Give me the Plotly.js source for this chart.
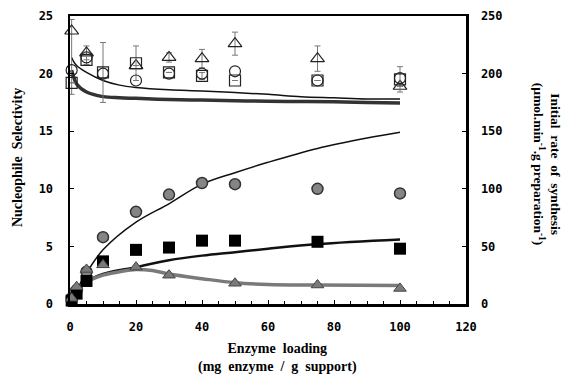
<!DOCTYPE html>
<html>
<head>
<meta charset="utf-8">
<script src="https://cdn.plot.ly/plotly-3.0.1.min.js"></script>
<style>html,body{margin:0;padding:0;background:#fff;}#chart{width:566px;height:377px;}</style>
</head>
<body>
<div id="chart"></div>
<script>
// ---- Nucleophile selectivity (left axis) ----
const selX = [0.5, 5, 10, 20, 30, 40, 50, 75, 100];
const selTriX = [0.5, 5, 20, 30, 40, 50, 75, 100];
const selTriY = [23.7, 21.8, 20.7, 21.4, 21.3, 22.6, 21.3, 18.9];
const selTriErrPlus = [1.0, 0.6, 0, 0.4, 0.8, 1.0, 1.1, 0];
const selTriErrMinus = [5.5, 0.6, 0, 0.4, 0.8, 1.0, 1.1, 0];
const selSqY = [19.2, 21.2, 20.1, 20.9, 20.1, 19.8, 19.4, 19.4, 19.5];
const selSqErr = [0, 0.4, 2.6, 1.5, 0, 0.3, 0, 0, 1.1];
const selCircY = [20.3, 21.4, 20.0, 19.4, 20.0, 20.0, 20.2, 19.4, 19.6];

const fitSelX = [0.5, 1, 2, 5, 10, 15, 20, 30, 40, 50, 60, 70, 80, 90, 100];
const fitSelThin = [21.4, 21.1, 20.7, 20.1, 19.4, 19.0, 18.8, 18.6, 18.5, 18.35, 18.2, 18.0, 17.9, 17.8, 17.8];
const fitSelThick = [20.3, 19.8, 19.1, 18.4, 18.0, 17.9, 17.85, 17.75, 17.7, 17.65, 17.6, 17.58, 17.55, 17.5, 17.45];

// ---- Initial rate of synthesis (right axis) ----
const rateX = [0.5, 2, 5, 10, 20, 30, 40, 50, 75, 100];
const rateCircY = [5, 12, 28, 58, 80, 95, 105, 104, 100, 96];
const rateSqY = [3, 9, 20, 37, 47, 49, 55, 55, 54, 48];
const rateTriX = [0.5, 2, 5, 10, 20, 30, 50, 75, 100];
const rateTriY = [5, 15, 30, 34, 32, 25, 18, 16.5, 13.5];

const fitCircX = [0.5, 2, 5, 10, 20, 30, 40, 50, 60, 75, 90, 100];
const fitCircY = [4, 12, 27, 47, 71, 87, 104, 114, 123, 135, 144, 149];
const fitSqX = [0.5, 2, 5, 10, 20, 30, 40, 50, 60, 75, 100];
const fitSqY = [4, 10, 19, 26, 32, 38, 42, 45, 48, 52, 56];
const fitTriX = [0.5, 2, 5, 10, 15, 20, 25, 30, 40, 50, 60, 75, 100];
const fitTriY = [5, 11, 19, 25, 28, 30, 29, 26, 22, 18.5, 17, 16.5, 16];

const errStyle = {type: 'data', visible: true, color: '#777', thickness: 1, width: 3};

const traces = [
  // upper fits
  {x: fitSelX, y: fitSelThin, mode: 'lines', line: {color: '#111', width: 1.5, shape: 'spline'}, yaxis: 'y'},
  {x: fitSelX, y: fitSelThick, mode: 'lines', line: {color: '#333', width: 3.5, shape: 'spline'}, yaxis: 'y'},
  // lower fits
  {x: fitCircX, y: fitCircY, mode: 'lines', line: {color: '#111', width: 1.5, shape: 'spline'}, yaxis: 'y2'},
  {x: fitSqX, y: fitSqY, mode: 'lines', line: {color: '#111', width: 2.5, shape: 'spline'}, yaxis: 'y2'},
  {x: fitTriX, y: fitTriY, mode: 'lines', line: {color: '#7a7a7a', width: 3.5, shape: 'spline'}, yaxis: 'y2'},
  // upper open markers
  {x: selTriX, y: selTriY, mode: 'markers', yaxis: 'y', cliponaxis: false,
   marker: {symbol: 'triangle-up-open', size: 12, color: '#222', line: {width: 1.2}},
   error_y: Object.assign({array: selTriErrPlus, arrayminus: selTriErrMinus, symmetric: false}, errStyle)},
  {x: selX, y: selSqY, mode: 'markers', yaxis: 'y', cliponaxis: false,
   marker: {symbol: 'square-open', size: 11, color: '#222', line: {width: 1.2}},
   error_y: Object.assign({array: selSqErr}, errStyle)},
  {x: selX, y: selCircY, mode: 'markers', yaxis: 'y', cliponaxis: false,
   marker: {symbol: 'circle-open', size: 11, color: '#222', line: {width: 1.2}}},
  // lower filled markers
  {x: rateX, y: rateCircY, mode: 'markers', yaxis: 'y2', cliponaxis: false,
   marker: {symbol: 'circle', size: 11, color: '#858585', line: {color: '#333', width: 1.5}}},
  {x: rateX, y: rateSqY, mode: 'markers', yaxis: 'y2', cliponaxis: false,
   marker: {symbol: 'square', size: 12, color: '#000'}},
  {x: rateTriX, y: rateTriY, mode: 'markers', yaxis: 'y2', cliponaxis: false,
   marker: {symbol: 'triangle-up', size: 11, color: '#7a7a7a', line: {color: '#444', width: 1}}}
];

const tickFont = {family: 'DejaVu Sans Mono', size: 12, color: '#000', weight: 'bold'};
const titleFont = {family: 'Liberation Serif', size: 14, color: '#000', weight: 'bold'};

const layout = {
  width: 566, height: 377,
  margin: {l: 70, r: 100, t: 16, b: 73},
  paper_bgcolor: '#fff', plot_bgcolor: '#fff',
  showlegend: false,
  xaxis: {
    range: [0, 120], dtick: 20, tick0: 0,
    showgrid: false, zeroline: false,
    showline: true, linewidth: 2.5, linecolor: '#000', mirror: true,
    ticks: 'inside', ticklen: 4, tickwidth: 1, tickcolor: '#000',
    minor: {dtick: 5, ticks: 'inside', ticklen: 3, tickcolor: '#000', tickwidth: 1},
    tickfont: tickFont, ticklabelstandoff: 10
  },
  yaxis: {
    range: [0, 25], dtick: 5, tick0: 0,
    showgrid: false, zeroline: false,
    showline: true, linewidth: 2.5, linecolor: '#000',
    ticks: 'inside', ticklen: 4, tickwidth: 1, tickcolor: '#000',
    tickfont: tickFont, ticklabelstandoff: 12
  },
  yaxis2: {
    overlaying: 'y', side: 'right',
    range: [0, 250], dtick: 50, tick0: 0,
    showgrid: false, zeroline: false,
    showline: true, linewidth: 2.5, linecolor: '#000',
    ticks: 'inside', ticklen: 4, tickwidth: 1, tickcolor: '#000',
    tickfont: tickFont, ticklabelstandoff: 10
  },
  annotations: [
    {xref: 'paper', yref: 'paper', x: -0.134, y: 0.51, textangle: -90, showarrow: false,
     text: 'Nucleophile  Selectivity', font: titleFont, xanchor: 'center', yanchor: 'middle'},
    {xref: 'paper', yref: 'paper', x: 1.205, y: 0.486, textangle: 90, showarrow: false,
     text: 'Initial  rate  of  synthesis<br>(µmol.min<sup>-1</sup>.g preparation<sup>-1</sup>)',
     font: {family: 'Liberation Serif', size: 13.5, color: '#000', weight: 'bold'}, xanchor: 'center', yanchor: 'middle'},
    {xref: 'paper', yref: 'paper', x: 0.523, y: -0.188, showarrow: false,
     text: 'Enzyme  loading<br>(mg  enzyme  /  g  support)',
     font: {family: 'Liberation Serif', size: 14, color: '#000', weight: 'bold'}, xanchor: 'center', yanchor: 'middle'}
  ]
};

Plotly.newPlot('chart', traces, layout, {displayModeBar: false, staticPlot: true});
</script>
</body>
</html>
